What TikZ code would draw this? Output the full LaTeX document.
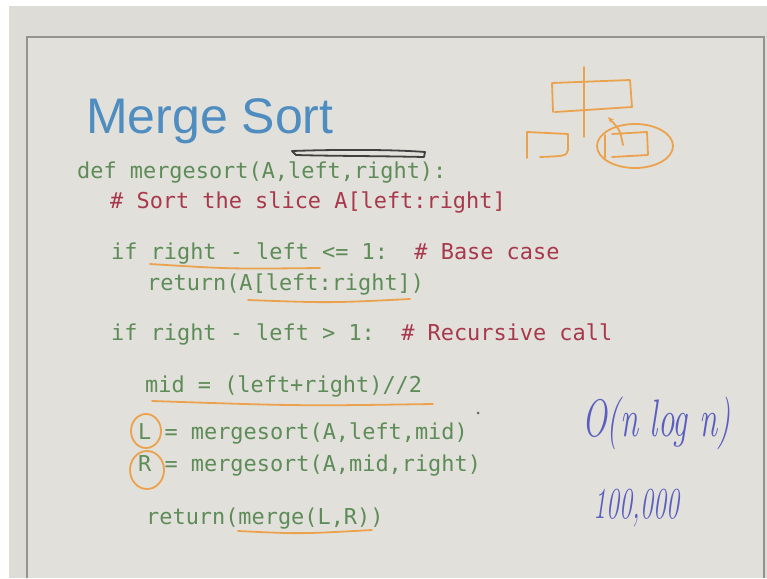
\documentclass[tikz,border=0pt]{standalone}
\usepackage{fontspec}
\newfontfamily\titlefont{Liberation Sans}
\newfontfamily\codefont{DejaVu Sans Mono}
\usetikzlibrary{arrows.meta}
\definecolor{bgc}{HTML}{DDDCD6}
\definecolor{innerc}{HTML}{E1E0DA}
\definecolor{framec}{HTML}{939390}
\definecolor{codeg}{HTML}{5E8C58}
\definecolor{coder}{HTML}{A8384C}
\definecolor{titleb}{HTML}{4F8DC0}
\definecolor{pen}{HTML}{EBA24E}
\definecolor{ink}{HTML}{5A5EC0}
\tikzset{
  code/.style={anchor=base west, inner sep=0, font=\codefont\fontsize{21.9}{26}\selectfont, text=codeg},
  hl/.style={draw=pen, line width=1.8pt, line cap=round, line join=round},
  hand/.style={anchor=base west, text=ink, inner sep=0}
}
\begin{document}
\begin{tikzpicture}[x=1pt,y=-1pt]
\useasboundingbox (0,0) rectangle (767,578);
\fill[white] (0,0) rectangle (767,578);
\fill[bgc] (9,6) rectangle (767,578);
\fill[innerc] (27,37) rectangle (764,578);
\draw[framec, line width=1.5pt] (27,578) -- (27,37) -- (764,37) -- (764,578);

\node[anchor=base west, inner sep=0, font=\titlefont\fontsize{50}{60}\selectfont, text=titleb] (title) at (86,133) {Merge Sort};

\node[code] (l1) at (77,178) {def mergesort(A,left,right):};
\node[code] (l2) at (110,208) {\textcolor{coder}{\# Sort the slice A[left:right]}};
\node[code] (l3) at (111,259) {if right - left <= 1:~~\textcolor{coder}{\# Base case}};
\node[code] (l4) at (147,290) {return(A[left:right])};
\node[code] (l5) at (111,340) {if right - left > 1:~~\textcolor{coder}{\# Recursive call}};
\node[code] (l6) at (145,392) {mid = (left+right)//2};
\node[code] (l7) at (138,439) {L = mergesort(A,left,mid)};
\node[code] (l8) at (138,471) {R = mergesort(A,mid,right)};
\node[code] (l9) at (146,524) {return(merge(L,R))};

% dark scribble over left,right
\draw[black!75, line width=1.8pt, line join=round] (292,151) .. controls (350,149) and (400,150) .. (425,152) -- (424,157) .. controls (380,156) and (330,156) .. (296,155) -- cycle;

% orange sketch top right
\draw[hl] (584,67) -- (584,137);
\draw[hl] (553,112) -- (552,83) -- (630,80) -- (632,107) -- (555,112);
\draw[hl] (527,158) -- (527,132) -- (568,134) -- (568,150) .. controls (566,156) .. (540,157);
\draw[hl] (605,158) -- (605,135);
\draw[hl] (612,134) -- (647,132) -- (648,155) -- (612,157);
\draw[hl] (635,146) ellipse [x radius=38, y radius=22];
\draw[hl, -{Stealth[length=6pt,width=5pt]}] (623,145) .. controls (620,130) .. (608,117);

% orange underlines and circles
\draw[hl] (150,264) .. controls (230,269) .. (320,268);
\draw[hl] (248,300) .. controls (330,303) .. (410,299);
\draw[hl] (152,401) .. controls (300,406) .. (433,404);
\draw[hl] (238,531) .. controls (300,534) .. (372,530);
\draw[hl] (146,431) ellipse [x radius=15, y radius=17];
\draw[hl] (147,470) ellipse [x radius=17, y radius=19];

\fill[black!60] (478,413) circle (1.5);

% handwriting
\node[hand, font=\itshape\fontsize{33}{40}\selectfont] (bigo) at (582,436) {\scalebox{1}[1.6]{O(n log n)}};
\node[hand, font=\itshape\fontsize{26}{32}\selectfont] (num) at (593,518) {\scalebox{1}[1.7]{100,000}};
\end{tikzpicture}
\end{document}
